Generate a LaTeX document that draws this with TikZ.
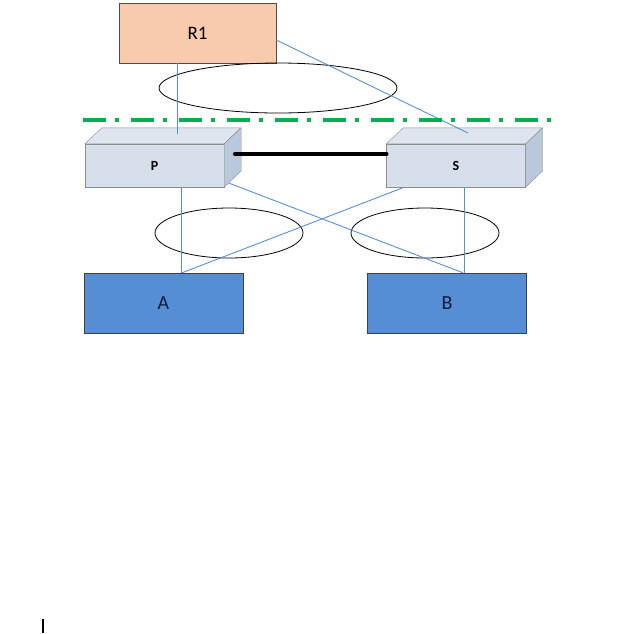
\documentclass[tikz,border=0pt]{standalone}
\usepackage{fontspec}
\setmainfont{Carlito}
\usepackage{tikz}
\usetikzlibrary{positioning,shapes.geometric}
\definecolor{peach}{HTML}{F8CBAD}
\definecolor{swfront}{HTML}{D6DFEA}
\definecolor{swtop}{HTML}{DEE5EF}
\definecolor{swside}{HTML}{B9C8DB}
\definecolor{hostblue}{HTML}{558ED5}
\definecolor{linkblue}{HTML}{5B8FD0}
\definecolor{sepgreen}{HTML}{00B050}
\definecolor{navy}{HTML}{0E1D3A}

\begin{document}
\begin{tikzpicture}[x=1pt,y=-1pt,
  router/.style={draw=black!70,fill=peach,minimum width=157pt,minimum height=60pt,inner sep=0pt,font=\fontsize{19}{19}\selectfont},
  swbox/.style={draw=black!45,fill=swfront,minimum width=139pt,minimum height=43pt,inner sep=0pt,font=\fontsize{14}{14}\selectfont\bfseries},
  swface/.style={draw=black!45,line join=round},
  host/.style={draw=black!75,fill=hostblue,minimum width=159pt,minimum height=60pt,inner sep=0pt,text=navy,font=\fontsize{20}{20}\selectfont},
  lag/.style={draw=black,ellipse,inner sep=0pt,line width=.8pt},
  link/.style={draw=linkblue,line width=.9pt},
  peer/.style={draw=black,line width=4.5pt,line cap=round},
  sep/.style={draw=sepgreen,line width=4pt,dash pattern=on 23pt off 9pt on 4pt off 12pt}]
\useasboundingbox (0,0) rectangle (641,633);
% devices
\node[router] (R1) at (197.5,33) {R1};
\node[swbox] (P) at (154.5,165.5) {P};
\node[swbox] (S) at (456,165.5) {S};
\node[host] (A) at (163.5,303) {A};
\node[host] (B) at (447,303) {B};
% 3d faces of the switches
\foreach \sw in {P,S} {
  \fill[swtop,swface] (\sw.north west) -- ++(17,-16) -- ++(139,0) -- (\sw.north east) -- cycle;
  \fill[swside,swface] (\sw.north east) -- ++(17,-16) -- ++(0,43) -- (\sw.south east) -- cycle;
}
% port groups
\node[lag,minimum width=238pt,minimum height=50pt] (lagR) at (278,88) {};
\node[lag,minimum width=148pt,minimum height=50pt] (lagA) at (229,233) {};
\node[lag,minimum width=148pt,minimum height=50pt] (lagB) at (425,233) {};
% links
\coordinate (Ptop) at (177,134);
\coordinate (Stop) at (468,133);
\draw[link] (R1.south -| Ptop) -- (Ptop);
\draw[link] ([yshift=-7pt]R1.east) -- (Stop);
\draw[link] ([xshift=26.5pt]P.south) -- ([xshift=17.5pt]A.north);
\draw[link] ([xshift=5pt,yshift=4pt]P.south east) -- ([xshift=16pt]B.north);
\draw[link] ([xshift=18pt]S.south west) -- ([xshift=18.5pt]A.north);
\draw[link] ([xshift=8pt]S.south) -- ([xshift=17pt]B.north);
\draw[peer] ([xshift=11pt,yshift=11.5pt]P.east) -- ([yshift=11.5pt]S.west);
% separator
\coordinate (sepL) at (83,119.5);
\coordinate (sepR) at (557,119.5);
\draw[sep] (sepL) -- (sepR);
\draw[line width=2pt] (42.8,619) -- (42.8,633);
\end{tikzpicture}
\end{document}
